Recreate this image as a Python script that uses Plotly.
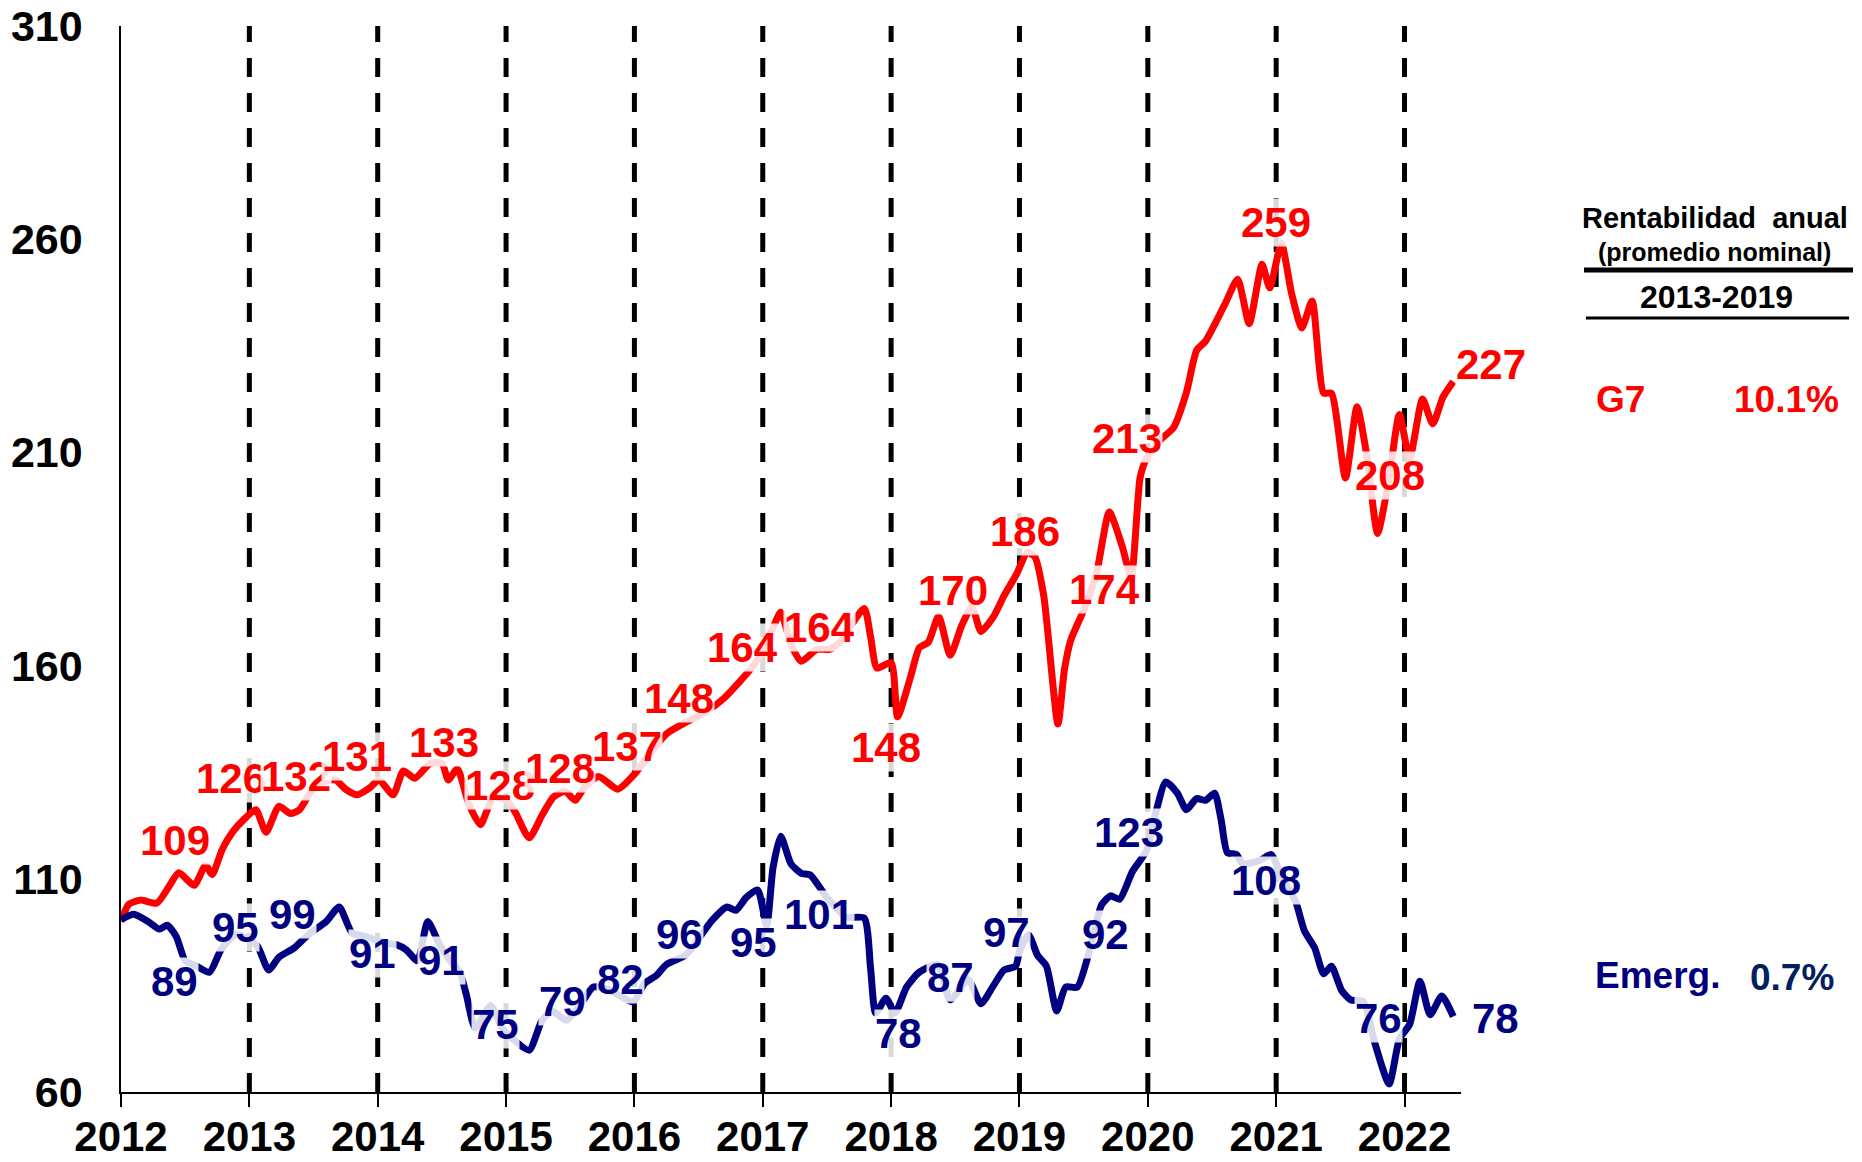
import plotly.graph_objects as go

# ---------------- data ----------------
years = list(range(2012, 2023))
year_labels = [str(y) for y in years]
y_ticks = [60, 110, 160, 210, 260, 310]

g7_t = [2012.00, 2012.06, 2012.15, 2012.28, 2012.37, 2012.45, 2012.57, 2012.66, 2012.71, 2012.79,
        2012.87, 2012.96, 2013.05, 2013.13, 2013.23, 2013.32, 2013.39, 2013.47, 2013.55, 2013.67,
        2013.75, 2013.84, 2013.94, 2014.01, 2014.12, 2014.20, 2014.29, 2014.41, 2014.50, 2014.55,
        2014.62, 2014.71, 2014.80, 2014.90, 2015.00, 2015.07, 2015.18, 2015.28, 2015.37, 2015.46,
        2015.54, 2015.60, 2015.72, 2015.87, 2016.00, 2016.10, 2016.25, 2016.42, 2016.55, 2016.70,
        2016.90, 2017.00, 2017.10, 2017.14, 2017.22, 2017.30, 2017.42, 2017.52, 2017.60, 2017.79,
        2017.84, 2017.89, 2018.00, 2018.05, 2018.15, 2018.22, 2018.29, 2018.37, 2018.46, 2018.55,
        2018.63, 2018.70, 2018.80, 2018.88, 2018.98, 2019.06, 2019.12, 2019.19, 2019.30, 2019.35,
        2019.40, 2019.50, 2019.60, 2019.70, 2019.80, 2019.87, 2019.94, 2019.99, 2020.10, 2020.20,
        2020.30, 2020.38, 2020.45, 2020.60, 2020.70, 2020.79, 2020.89, 2020.95, 2021.04, 2021.12,
        2021.20, 2021.28, 2021.37, 2021.43, 2021.54, 2021.63, 2021.71, 2021.79, 2021.88, 2021.96,
        2022.04, 2022.14, 2022.22, 2022.30, 2022.38]
g7_v = [100, 104, 105, 104.3, 108, 111.4, 108.5, 113.2, 111, 117,
        121, 124, 126.2, 120.9, 127, 125.3, 126.2, 130, 132.5, 133.2,
        131, 129.7, 131.4, 133.2, 129.7, 135.3, 133.6, 137.1, 137.1, 133.2,
        135.8, 127.5, 122.7, 129, 128.5, 125.7, 119.6, 124.9, 129.2, 130.5,
        128.4, 131, 134, 131, 134.5, 138.5, 144, 147, 149, 152.4,
        159, 163.3, 170.3, 172.5, 165, 161, 163.8, 163.8, 165.5, 173.4,
        166.8, 159.4, 160.7, 148, 157.2, 164.2, 165.5, 171.6, 162.4, 169.4,
        173.8, 168, 171.6, 176.4, 181.6, 186.5, 185.5, 176.2, 146.3, 159,
        166, 173, 181.6, 196, 188, 180.7, 204.1, 208.6, 213, 215.8,
        224, 233.9, 236.1, 244.7, 250.6, 240.2, 254.1, 248.6, 259, 247.3,
        239.2, 245.5, 223.9, 223.9, 204, 220.7, 208.5, 191, 204, 218.9,
        208.5, 222.5, 216.7, 223, 226.6]

em_t = [2012.00, 2012.10, 2012.21, 2012.30, 2012.36, 2012.43, 2012.50, 2012.59, 2012.69, 2012.78,
        2012.90, 2013.06, 2013.15, 2013.23, 2013.35, 2013.46, 2013.60, 2013.70, 2013.80, 2013.90,
        2014.05, 2014.15, 2014.22, 2014.31, 2014.39, 2014.48, 2014.56, 2014.64, 2014.69, 2014.76,
        2014.88, 2014.97, 2015.07, 2015.18, 2015.28, 2015.36, 2015.47, 2015.58, 2015.68, 2015.80,
        2015.99, 2016.08, 2016.17, 2016.25, 2016.40, 2016.50, 2016.61, 2016.72, 2016.79, 2016.87,
        2016.96, 2017.03, 2017.08, 2017.14, 2017.22, 2017.30, 2017.37, 2017.50, 2017.65, 2017.79,
        2017.84, 2017.88, 2017.96, 2018.03, 2018.12, 2018.22, 2018.36, 2018.46, 2018.60, 2018.70,
        2018.79, 2018.88, 2018.97, 2019.00, 2019.07, 2019.14, 2019.21, 2019.29, 2019.36, 2019.45,
        2019.54, 2019.64, 2019.71, 2019.78, 2019.88, 2019.99, 2020.06, 2020.14, 2020.23, 2020.30,
        2020.38, 2020.45, 2020.52, 2020.57, 2020.62, 2020.69, 2020.74, 2020.88, 2020.96, 2021.05,
        2021.15, 2021.22, 2021.30, 2021.37, 2021.43, 2021.51, 2021.58, 2021.68, 2021.76, 2021.88,
        2021.96, 2022.04, 2022.12, 2022.20, 2022.29, 2022.38]
em_v = [100.5, 101.7, 100, 98.2, 99.1, 96.5, 90.8, 89.5, 88.1, 93.4,
        97, 94.3, 88.6, 91.6, 93.8, 96.9, 100, 103.4, 97.3, 96.5,
        95, 94.5, 93.4, 90.8, 100, 94.7, 91, 88.1, 82.9, 75,
        80.3, 75, 72, 69.8, 76.8, 79, 76.8, 80.5, 84.6, 84,
        81.1, 85.5, 87.3, 89.9, 92.1, 96, 100.4, 103.4, 102.6, 105.6,
        107.4, 99, 112.6, 120, 113.5, 111.3, 110.9, 105.6, 101, 100.8,
        89, 78.5, 82, 78.5, 84.6, 88.1, 89.9, 81.6, 86.4, 80.7,
        84.6, 88.6, 89.5, 93, 96.9, 92.1, 89.5, 79, 84.6, 84.6,
        92.5, 103.9, 106, 105.2, 111.7, 116.6, 125.3, 132.7, 130.1, 126.2,
        128.8, 128.4, 130.1, 124, 116.1, 115.7, 113.5, 114.4, 115.7, 110,
        104.8, 97.8, 93.8, 87.7, 89.5, 83.8, 81.6, 81.2, 72.4, 61.9,
        72.4, 75.9, 86, 78.1, 82.5, 77.7]

# data labels (text, time, value)
g7_lbl_txt = ["109", "126", "132", "131", "133", "128", "128", "137", "148", "164",
              "164", "148", "170", "186", "174", "213", "259", "208"]
g7_lbl_t = [2012.42, 2012.86, 2013.36, 2013.84, 2014.52, 2014.95, 2015.42, 2015.94, 2016.35, 2016.84,
            2017.44, 2017.96, 2018.48, 2019.04, 2019.66, 2019.84, 2021.00, 2021.89]
g7_lbl_v = [119, 133.5, 134, 138.8, 141.9, 131.9, 135.8, 141, 152.4, 164.2,
            169, 140.8, 177.7, 191.5, 177.8, 213.2, 264, 204.5]

em_lbl_txt = ["89", "95", "99", "91", "91", "75", "79", "82", "96", "95",
              "101", "78", "87", "97", "92", "123", "108", "76"]
em_lbl_t = [2012.42, 2012.89, 2013.34, 2013.96, 2014.50, 2014.92, 2015.44, 2015.89, 2016.35, 2016.93,
            2017.44, 2018.06, 2018.46, 2018.90, 2019.67, 2019.85, 2020.92, 2021.80]
em_lbl_v = [86, 98.6, 101.7, 92.5, 90.8, 75.9, 81.2, 86.4, 96.9, 95.1,
            101.7, 73.7, 86.8, 97.3, 96.9, 120.9, 109.6, 77.2]

# end-of-series labels (placed just right of the last point)
g7_end_txt, g7_end_v = "227", 230.6
em_end_txt, em_end_v = "78", 77.2

# ---------------- styling ----------------
RED = "#FF0000"
NAVY = "#000080"
FONT = "Liberation Sans"
W, H = 1862, 1162
ML, MT = 121, 26
MR = W - 1461
MB = H - 1092


def px(x, y):
    """page pixel position -> paper coordinates"""
    return (x - ML) / (W - ML - MR), (H - MB - y) / (H - MT - MB)


fig = go.Figure()
fig.add_trace(go.Scatter(x=g7_t, y=g7_v, mode="lines", name="G7",
                         line=dict(color=RED, width=7, shape="spline", smoothing=0.6)))
fig.add_trace(go.Scatter(x=em_t, y=em_v, mode="lines", name="Emerg.",
                         line=dict(color=NAVY, width=7, shape="spline", smoothing=0.6)))

# dashed year separators
for yr in years[1:]:
    fig.add_shape(type="line", x0=yr, x1=yr, y0=y_ticks[0], y1=y_ticks[-1], xref="x", yref="y",
                  line=dict(color="black", width=5, dash="19px,16px"), layer="below")

anns = []


def data_label(txt, t, v, color, **kw):
    anns.append(dict(x=t, y=v, xref="x", yref="y", text=txt, showarrow=False,
                     font=dict(family=FONT, size=42, color=color, weight="bold"),
                     bgcolor="rgba(255,255,255,0.85)", borderpad=0, **kw))


for txt, t, v in zip(g7_lbl_txt, g7_lbl_t, g7_lbl_v):
    data_label(txt, t, v, RED)
for txt, t, v in zip(em_lbl_txt, em_lbl_t, em_lbl_v):
    data_label(txt, t, v, NAVY)
data_label(g7_end_txt, g7_t[-1], g7_end_v, RED, xanchor="left", xshift=2)
data_label(em_end_txt, em_t[-1], em_end_v, NAVY, xanchor="left", xshift=18)


# side table
def side(text, x, y, size, color="black"):
    xp, yp = px(x, y)
    anns.append(dict(x=xp, y=yp, xref="paper", yref="paper", text=text, showarrow=False,
                     xanchor="center", yanchor="middle",
                     font=dict(family=FONT, size=size, color=color, weight="bold")))


side("Rentabilidad&nbsp;&nbsp;anual", 1715, 218, 29)
side("(promedio nominal)", 1715, 252, 25)
side("2013-2019", 1716, 297, 32)
side("G7", 1620, 399, 37, RED)
side("10.1%", 1786, 399, 37, RED)
side("Emerg.", 1657, 975, 37, NAVY)
side("0.7%", 1792, 977, 37, "#002060")

x0, y0 = px(1584, 270)
x1, _ = px(1853, 270)
fig.add_shape(type="line", xref="paper", yref="paper", x0=x0, x1=x1, y0=y0, y1=y0,
              line=dict(color="black", width=5))
x0, y0 = px(1586, 318)
x1, _ = px(1849, 318)
fig.add_shape(type="line", xref="paper", yref="paper", x0=x0, x1=x1, y0=y0, y1=y0,
              line=dict(color="black", width=3))

fig.update_layout(
    width=W, height=H,
    margin=dict(l=ML, r=MR, t=MT, b=MB, autoexpand=False),
    plot_bgcolor="white", paper_bgcolor="white",
    showlegend=False,
    annotations=anns,
    xaxis=dict(range=[2012, 2022.44], tickvals=years, ticktext=year_labels,
               showline=True, linecolor="black", linewidth=1.5, mirror=False,
               ticks="outside", ticklen=13, tickwidth=1.5, tickcolor="black",
               ticklabelstandoff=-6,
               tickfont=dict(family=FONT, size=42, color="black", weight="bold"),
               showgrid=False, zeroline=False, fixedrange=True, automargin=False,
               ticklabeloverflow="allow"),
    yaxis=dict(range=[60, 310], tickvals=y_ticks,
               showline=True, linecolor="black", linewidth=1.5,
               ticks="", ticklabelstandoff=28,
               tickfont=dict(family=FONT, size=43, color="black", weight="bold"),
               showgrid=False, zeroline=False, fixedrange=True, automargin=False,
               ticklabeloverflow="allow"),
)

# remove the default 8px page margin so the figure fills the window exactly
fig.write_html("out.html", config={"displayModeBar": False},
               post_script="document.body.style.margin='0';document.body.style.overflow='hidden';")
